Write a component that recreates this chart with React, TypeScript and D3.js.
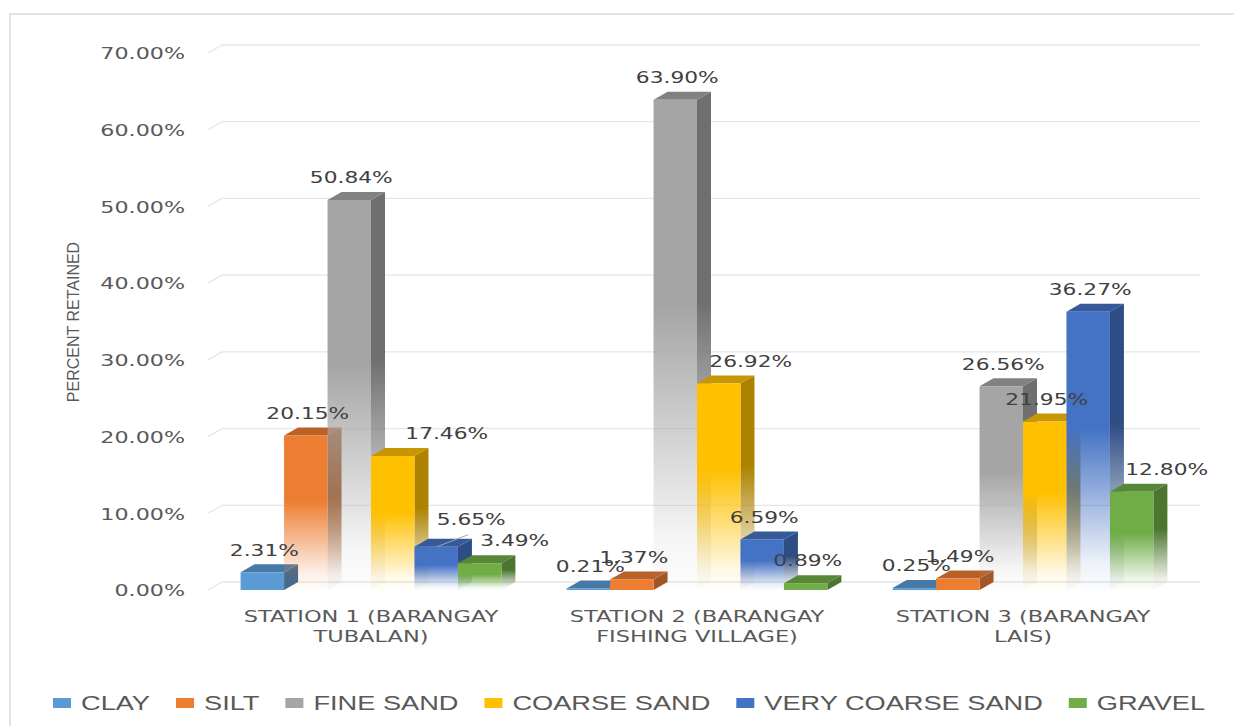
import { useEffect, useRef } from 'react'

import * as d3 from 'd3'

const stations = [
  'STATION 1 (BARANGAY TUBALAN)',
  'STATION 2 (BARANGAY FISHING VILLAGE)',
  'STATION 3 (BARANGAY LAIS)',
]

const seriesNames = ['CLAY', 'SILT', 'FINE SAND', 'COARSE SAND', 'VERY COARSE SAND', 'GRAVEL']

// percent retained per station
const clay = [2.31, 0.21, 0.25]
const silt = [20.15, 1.37, 1.49]
const fineSand = [50.84, 63.9, 26.56]
const coarseSand = [17.46, 26.92, 21.95]
const veryCoarseSand = [5.65, 6.59, 36.27]
const gravel = [3.49, 0.89, 12.8]

const yTicks = [0, 10, 20, 30, 40, 50, 60, 70]

const seriesColors = ['#5B9BD5', '#ED7D31', '#A5A5A5', '#FFC000', '#4472C4', '#70AD47']

// labels that were dragged away from their bar in the original
const labelNudge: Record<string, { dx: number; dy: number; leader?: boolean }> = {
  'COARSE SAND|0': { dx: 52, dy: 0 },
  'VERY COARSE SAND|0': { dx: 33, dy: -5, leader: true },
  'GRAVEL|0': { dx: 33, dy: 0 },
  'COARSE SAND|1': { dx: 30, dy: 0 },
  'GRAVEL|2': { dx: 33, dy: 0 },
}

const W = 1234
const H = 726
const DX = 14 // depth offset of the 3d columns
const DY = 8

const App = () => {
  const ref = useRef<SVGSVGElement>(null)

  useEffect(() => {
    const svg = d3.select(ref.current)
    svg.selectAll('*').remove()

    const values = [clay, silt, fineSand, coarseSand, veryCoarseSand, gravel]

    const x = d3.scaleBand<string>().domain(stations).range([208, 1186]).paddingInner(0.2).paddingOuter(0.1)
    const xs = d3.scaleBand<string>().domain(seriesNames).range([0, x.bandwidth()])
    const y = d3.scaleLinear().domain([0, 70]).range([582, 45]) // back wall

    const wideText = (
      sel: d3.Selection<SVGGElement, unknown, null, undefined>,
      tx: number,
      ty: number,
      sx: number,
      txt: string,
      anchor: string
    ) =>
      sel
        .append('text')
        .attr('transform', `translate(${tx},${ty}) scale(${sx},1)`)
        .attr('text-anchor', anchor)
        .attr('dy', '0.35em')
        .text(txt)

    // gradients: colour fading out towards the floor
    const defs = svg.append('defs')
    const addFade = (id: string, color: string) => {
      const g = defs.append('linearGradient').attr('id', id).attr('x1', 0).attr('y1', 0).attr('x2', 0).attr('y2', 1)
      g.append('stop').attr('offset', 0).attr('stop-color', color).attr('stop-opacity', 1)
      g.append('stop').attr('offset', 0.42).attr('stop-color', color).attr('stop-opacity', 1)
      g.append('stop').attr('offset', 0.9).attr('stop-color', color).attr('stop-opacity', 0.1)
      g.append('stop').attr('offset', 1).attr('stop-color', color).attr('stop-opacity', 0.02)
    }
    seriesColors.forEach((c, i) => {
      addFade(`front${i}`, c)
      addFade(`side${i}`, d3.color(c)!.darker(1.1).formatHex())
    })

    // chart frame
    svg
      .append('rect')
      .attr('x', 10)
      .attr('y', 14)
      .attr('width', W)
      .attr('height', H)
      .attr('fill', '#fff')
      .attr('stroke', '#d9d9d9')
      .attr('stroke-width', 1.5)

    // gridlines on the back wall + side wall diagonals
    const grid = svg.append('g').attr('stroke', '#e6e6e6').attr('stroke-width', 1.3).attr('fill', 'none')
    yTicks.forEach((t) => {
      grid
        .append('line')
        .attr('x1', 208 + DX)
        .attr('x2', 1186 + DX)
        .attr('y1', y(t))
        .attr('y2', y(t))
      grid
        .append('line')
        .attr('x1', 208)
        .attr('y1', y(t) + DY)
        .attr('x2', 208 + DX)
        .attr('y2', y(t))
    })

    // y tick labels
    const ticks = svg
      .append('g')
      .attr('font-family', 'DejaVu Sans')
      .attr('font-size', 15)
      .attr('fill', '#595959')
    yTicks.forEach((t) => {
      wideText(ticks, 185, y(t) + DY + 1, 1.48, d3.format('.2f')(t) + '%', 'end')
    })

    // y axis title
    svg
      .append('text')
      .attr('transform', 'translate(73,322) rotate(-90)')
      .attr('text-anchor', 'middle')
      .attr('dy', '0.35em')
      .attr('font-family', 'Liberation Sans')
      .attr('font-size', 16)
      .attr('fill', '#595959')
      .text('PERCENT RETAINED')

    // columns
    const bars = svg.append('g')
    stations.forEach((st, si) => {
      seriesNames.forEach((name, k) => {
        const v = values[k][si]
        const x0 = (x(st) ?? 0) + (xs(name) ?? 0)
        const x1 = x0 + xs.bandwidth()
        const yt = y(v) + DY
        const yb = y(0) + DY
        const top = d3.color(seriesColors[k])!.darker(0.7).formatHex()
        const side = d3.color(seriesColors[k])!.darker(1.1).formatHex()

        bars
          .append('path')
          .attr('d', `M${x1},${yt}L${x1 + DX},${yt - DY}L${x1 + DX},${yb - DY}L${x1},${yb}Z`)
          .attr('fill', v > 3 ? `url(#side${k})` : side)
        bars
          .append('path')
          .attr('d', `M${x0},${yt}L${x0 + DX},${yt - DY}L${x1 + DX},${yt - DY}L${x1},${yt}Z`)
          .attr('fill', top)
        bars
          .append('rect')
          .attr('x', x0)
          .attr('y', yt)
          .attr('width', xs.bandwidth())
          .attr('height', Math.max(yb - yt, 0.5))
          .attr('fill', v > 3 ? `url(#front${k})` : seriesColors[k])
      })
    })

    // data labels
    const labels = svg
      .append('g')
      .attr('font-family', 'DejaVu Sans')
      .attr('font-size', 15)
      .attr('fill', '#404040')
    stations.forEach((st, si) => {
      seriesNames.forEach((name, k) => {
        const v = values[k][si]
        const cx = (x(st) ?? 0) + (xs(name) ?? 0) + xs.bandwidth() / 2
        const nudge = labelNudge[`${name}|${si}`] ?? { dx: 0, dy: 0 }
        const lx = cx + 2 + nudge.dx
        const ly = y(v) - 14 + nudge.dy
        if (nudge.leader) {
          labels
            .append('line')
            .attr('x1', cx + 1)
            .attr('y1', y(v) + DY)
            .attr('x2', lx - 3)
            .attr('y2', ly + 15)
            .attr('stroke', '#a6a6a6')
            .attr('stroke-width', 1)
        }
        wideText(labels, lx, ly, 1.45, d3.format('.2f')(v) + '%', 'middle')
      })
    })

    // category labels, wrapped after "(BARANGAY"
    const cats = svg
      .append('g')
      .attr('font-family', 'DejaVu Sans')
      .attr('font-size', 15)
      .attr('fill', '#595959')
    stations.forEach((st) => {
      const cut = st.indexOf('(BARANGAY') + '(BARANGAY'.length
      const lines = [st.slice(0, cut), st.slice(cut + 1)]
      const cx = (x(st) ?? 0) + x.bandwidth() / 2
      lines.forEach((ln, li) => {
        wideText(cats, cx, y(0) + DY + 27 + li * 20, 1.5, ln, 'middle')
      })
    })

    // legend
    const legend = svg
      .append('g')
      .attr('font-family', 'Liberation Sans')
      .attr('font-size', 20)
      .attr('fill', '#595959')
    let lx = 53
    seriesNames.forEach((name, k) => {
      legend
        .append('rect')
        .attr('x', lx)
        .attr('y', 698)
        .attr('width', 18)
        .attr('height', 10)
        .attr('fill', seriesColors[k])
      const t = wideText(legend, lx + 28, 703, 1.36, name, 'start')
      const w = (t.node() as SVGTextElement).getComputedTextLength() * 1.36
      lx += 28 + w + 26
    })
  }, [])

  return (
    <div style={{ position: 'absolute', left: 0, top: 0 }}>
      <svg ref={ref} width={W} height={H} style={{ display: 'block', background: '#fff' }} />
    </div>
  )
}

export default App
